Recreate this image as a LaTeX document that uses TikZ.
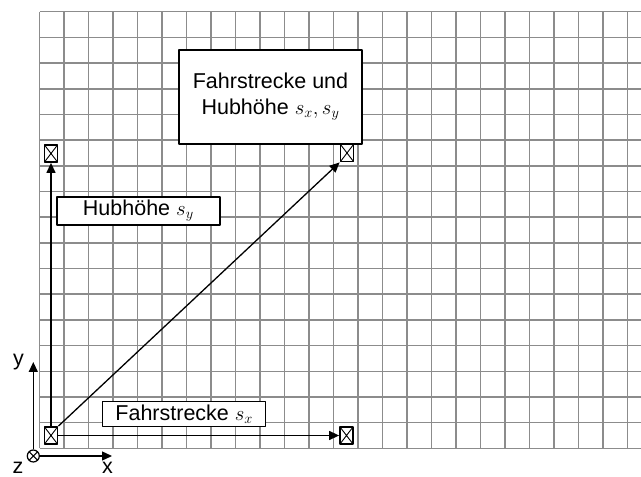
\documentclass[tikz,border=0pt]{standalone}
\usepackage{fontspec}
\setsansfont{Liberation Sans}
\usetikzlibrary{arrows.meta}
\definecolor{ink}{HTML}{000000}
\definecolor{gridgray}{HTML}{8C8C8C}
\tikzset{
  gridline/.style={gridgray,line width=1.5pt},
  marker/.style={draw=ink,fill=white,line width=1.8pt,minimum width=13pt,minimum height=17pt,inner sep=0pt,
    path picture={\draw[ink,line width=.9pt] (path picture bounding box.south west) -- (path picture bounding box.north east)
      (path picture bounding box.north west) -- (path picture bounding box.south east);}},
  labelbox/.style={draw=ink,fill=white,line width=1.4pt,inner sep=0pt,text=ink},
  txt/.style={font=\sffamily\fontsize{21.5}{25.7}\selectfont},
  move/.style={-{Triangle[length=10pt,width=9pt]},ink,line width=1.3pt},
  zsign/.style={draw=ink,circle,fill=white,line width=1.2pt,minimum size=12pt,inner sep=0pt,
    path picture={\draw[ink,line width=1pt] (path picture bounding box.south west) -- (path picture bounding box.north east)
      (path picture bounding box.north west) -- (path picture bounding box.south east);}},
}

\begin{document}
\begin{tikzpicture}[x=1pt,y=1pt,line join=round]
  \path[use as bounding box] (0,0) rectangle (641,477);
  \fill[white] (0,0) rectangle (641,477);

  % raster
  \foreach \k in {0,...,24}{
    \draw[gridline] (39.5+24.5*\k,28.7) -- (39.5+24.5*\k,465.3);
  }
  \foreach \k in {0,...,17}{
    \draw[gridline] (39.5,28.7+25.68*\k) -- (641,28.7+25.68*\k);
  }

  % positions
  \node[marker] (m0)  at (51,41.5) {};
  \node[marker] (mx)  at (346.5,41.5) {};
  \node[marker] (my)  at (51,323.5) {};
  \node[marker] (mxy) at (347,324) {};

  \draw[move] (m0.east) -- (mx.west);
  \draw[move] (m0.north) -- (my.south);
  \draw[move] (m0.north east) -- (mxy.south west);

  \node[labelbox,txt,minimum width=163pt,minimum height=28pt] (laby) at (138.3,266) {Hubhöhe $s_y$};
  \node[labelbox,txt,minimum width=163pt,minimum height=25pt] (labx) at (184.2,63) {Fahrstrecke $s_x$};
  \node[labelbox,txt,align=center,minimum width=183pt,minimum height=94pt] (labxy) at (270.5,380) {Fahrstrecke und\\Hubhöhe $s_x,s_y$};

  % axes
  \node[zsign] (zaxis) at (33.3,21) {};
  \coordinate (xtip) at (112,21);
  \coordinate (ytip) at (33.3,115);
  \draw[move] (zaxis.east) -- (xtip);
  \draw[move] (zaxis.north) -- (ytip);
  \node[txt,anchor=base,inner sep=0pt] (xlab) at (107.5,3.5) {x};
  \node[txt,anchor=base] (ylab) at (18.5,111.4) {y};
  \node[txt,anchor=base,inner sep=0pt] (zlab) at (18,3.5) {z};
\end{tikzpicture}
\end{document}
